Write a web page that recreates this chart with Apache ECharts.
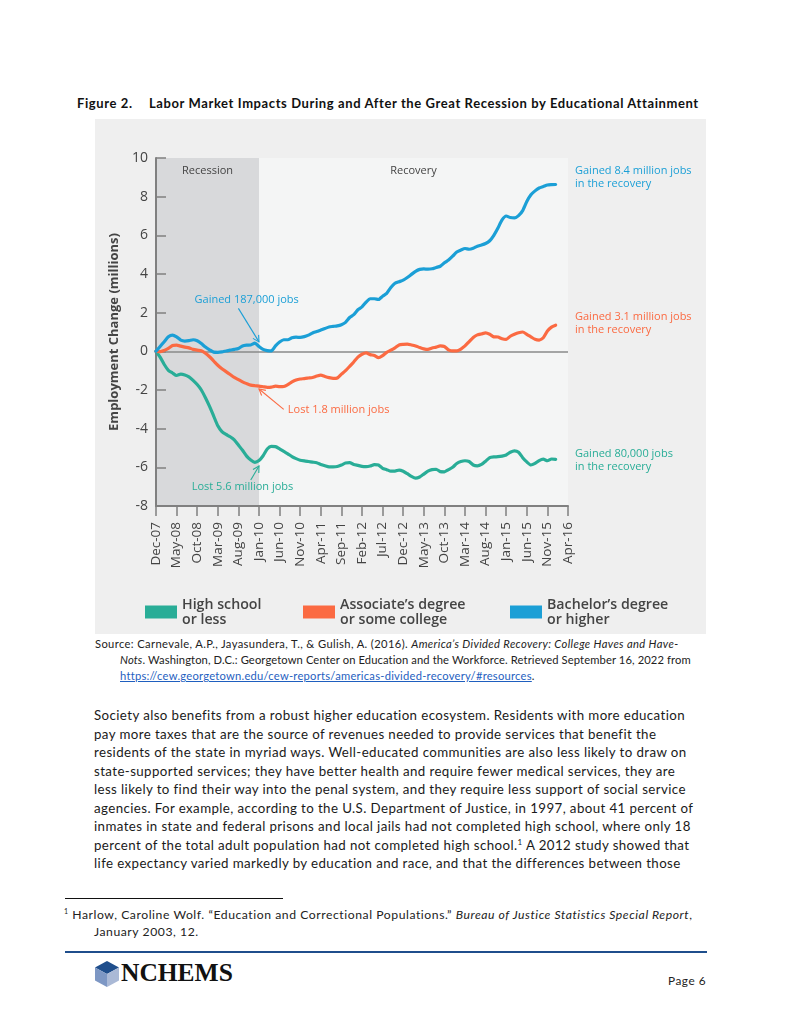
<!DOCTYPE html>
<html>
<head>
<meta charset="utf-8">
<script src="https://cdn.jsdelivr.net/npm/echarts@6.0.0/dist/echarts.min.js"></script>
<style>
  html, body { margin:0; padding:0; background:#fff; }
  body { width:800px; height:1035px; position:relative; overflow:hidden; font-family:"Lato", "Open Sans", sans-serif; color:#1a1a1a; }
  .ln { position:absolute; white-space:nowrap; }
  .title { font-weight:700; font-size:13px; letter-spacing:0.6px; line-height:16px; top:95px; color:#111; }
  .src { font-size:11.2px; letter-spacing:0.37px; line-height:16px; color:#222; }
  .body { font-size:13.3px; letter-spacing:0.4px; line-height:18px; left:94px; color:#1a1a1a; }
  .fn { font-size:12.2px; letter-spacing:0.55px; line-height:16px; color:#222; }
  .sup { position:relative; top:-5px; font-size:8px; }
  a { color:#1f5fbf; text-decoration:underline; }
  #chart { position:absolute; left:95px; top:119px; width:611px; height:515px; }
</style>
</head>
<body>
<div class="ln title" style="left:77px;">Figure 2.</div>
<div class="ln title" style="left:149px;">Labor Market Impacts During and After the Great Recession by Educational Attainment</div>

<div id="chart"></div>

<div class="ln src" style="left:95px; top:636px;">Source: Carnevale, A.P., Jayasundera, T., &amp; Gulish, A. (2016). <i>America’s Divided Recovery: College Haves and Have-</i></div>
<div class="ln src" style="left:120px; top:652px; letter-spacing:0.11px;"><i>Nots</i>. Washington, D.C.: Georgetown Center on Education and the Workforce. Retrieved September 16, 2022 from</div>
<div class="ln src" style="left:120px; top:668px; letter-spacing:0.24px;"><a>https://cew.georgetown.edu/cew-reports/americas-divided-recovery/#resources</a>.</div>

<div class="ln body" style="top:706px;">Society also benefits from a robust higher education ecosystem. Residents with more education</div>
<div class="ln body" style="top:724.5px;">pay more taxes that are the source of revenues needed to provide services that benefit the</div>
<div class="ln body" style="top:743px;">residents of the state in myriad ways. Well-educated communities are also less likely to draw on</div>
<div class="ln body" style="top:761.5px;">state-supported services; they have better health and require fewer medical services, they are</div>
<div class="ln body" style="top:780px;">less likely to find their way into the penal system, and they require less support of social service</div>
<div class="ln body" style="top:798.5px;">agencies. For example, according to the U.S. Department of Justice, in 1997, about 41 percent of</div>
<div class="ln body" style="top:817px;">inmates in state and federal prisons and local jails had not completed high school, where only 18</div>
<div class="ln body" style="top:835.5px;">percent of the total adult population had not completed high school.<span class="sup">1</span> A 2012 study showed that</div>
<div class="ln body" style="top:854px;">life expectancy varied markedly by education and race, and that the differences between those</div>

<div style="position:absolute; left:65px; top:898px; width:218px; height:1px; background:#111;"></div>
<div class="ln fn" style="left:64px; top:907px;"><span class="sup" style="font-size:7px;">1</span> Harlow, Caroline Wolf. “Education and Correctional Populations.” <i>Bureau of Justice Statistics Special Report</i>,</div>
<div class="ln fn" style="left:94px; top:924px;">January 2003, 12.</div>

<div style="position:absolute; left:65px; top:951px; width:642px; height:1.5px; background:#1f4e8c;"></div>
<svg style="position:absolute; left:93px; top:960px;" width="28" height="28" viewBox="0 0 28 28">
  <polygon points="14,1 26,7.5 14,14 2,7.5" fill="#1f4e8c"/>
  <polygon points="2,7.5 14,14 14,27 2,20.5" fill="#7d97c4"/>
  <polygon points="26,7.5 14,14 14,27 26,20.5" fill="#aab9d6"/>
</svg>
<div class="ln" style="left:121px; top:958px; font-family:'Liberation Serif','DejaVu Serif',serif; font-weight:700; font-size:26px; line-height:30px; color:#111; transform:scaleX(0.98); transform-origin:left center;">NCHEMS</div>
<div class="ln" style="right:94px; top:973px; font-size:11.8px; letter-spacing:0.5px; line-height:16px; color:#222;">Page 6</div>

<script>
// ---------------- data ----------------
const monthNames = ['Jan','Feb','Mar','Apr','May','Jun','Jul','Aug','Sep','Oct','Nov','Dec'];
const tickLabels = ['Dec-07','May-08','Oct-08','Mar-09','Aug-09','Jan-10','Jun-10','Nov-10','Apr-11','Sep-11',
  'Feb-12','Jul-12','Dec-12','May-13','Oct-13','Mar-14','Aug-14','Jan-15','Jun-15','Nov-15','Apr-16'];
// monthly categories Dec-07 .. Apr-16
const categories = [];
for (let i = 0; i < 101; i++) {
  const t = 11 + i;
  categories.push(monthNames[t % 12] + '-' + String((2007 + Math.floor(t / 12)) % 100).padStart(2, '0'));
}
const seriesNames = ['High school\nor less', 'Associate’s degree\nor some college', 'Bachelor’s degree\nor higher'];
// Employment change (millions), monthly Dec-07 .. Jan-16
const highSchool = [0,-0.3,-0.68,-0.98,-1.12,-1.25,-1.18,-1.22,-1.32,-1.5,
  -1.72,-2.0,-2.4,-2.85,-3.35,-3.85,-4.15,-4.3,-4.42,-4.58,
  -4.85,-5.12,-5.42,-5.62,-5.74,-5.65,-5.4,-5.05,-4.92,-4.93,
  -5.05,-5.18,-5.3,-5.45,-5.55,-5.63,-5.67,-5.7,-5.73,-5.76,
  -5.85,-5.92,-5.98,-5.98,-5.96,-5.88,-5.78,-5.76,-5.85,-5.9,
  -5.95,-5.96,-5.93,-5.86,-5.88,-6.05,-6.12,-6.2,-6.2,-6.14,
  -6.2,-6.33,-6.47,-6.56,-6.5,-6.35,-6.2,-6.12,-6.1,-6.22,
  -6.23,-6.12,-6.0,-5.8,-5.7,-5.66,-5.7,-5.88,-5.92,-5.85,
  -5.68,-5.5,-5.46,-5.45,-5.42,-5.36,-5.22,-5.15,-5.22,-5.5,
  -5.72,-5.88,-5.8,-5.65,-5.58,-5.66,-5.57,-5.59];
const associate = [0,-0.02,0.05,0.15,0.3,0.32,0.27,0.22,0.18,0.1,
  0.06,0.03,-0.1,-0.28,-0.5,-0.72,-0.9,-1.05,-1.2,-1.35,
  -1.46,-1.58,-1.67,-1.75,-1.78,-1.8,-1.83,-1.86,-1.85,-1.8,
  -1.83,-1.82,-1.72,-1.58,-1.48,-1.43,-1.41,-1.38,-1.35,-1.28,
  -1.23,-1.3,-1.36,-1.4,-1.38,-1.18,-1.0,-0.78,-0.55,-0.3,
  -0.15,-0.08,-0.17,-0.22,-0.33,-0.22,-0.05,0.06,0.18,0.33,
  0.36,0.37,0.33,0.28,0.2,0.13,0.1,0.17,0.22,0.28,
  0.25,0.08,0.02,0.02,0.12,0.28,0.5,0.72,0.85,0.9,
  0.95,0.88,0.75,0.74,0.65,0.62,0.78,0.88,0.96,1.0,
  0.88,0.75,0.62,0.58,0.7,1.05,1.25,1.35];
const bachelor = [0,0.25,0.5,0.75,0.84,0.75,0.58,0.53,0.55,0.6,
  0.55,0.4,0.22,0.08,-0.04,-0.05,-0.03,0.02,0.06,0.1,
  0.15,0.28,0.32,0.33,0.42,0.25,0.1,0.04,0.02,0.28,
  0.48,0.6,0.6,0.7,0.73,0.72,0.76,0.84,0.95,1.02,
  1.1,1.18,1.26,1.29,1.32,1.38,1.5,1.75,1.9,2.15,
  2.3,2.55,2.72,2.72,2.68,2.85,3.0,3.3,3.52,3.6,
  3.68,3.82,3.98,4.14,4.24,4.26,4.25,4.27,4.34,4.4,
  4.58,4.72,4.92,5.14,5.24,5.32,5.28,5.33,5.44,5.5,
  5.58,5.72,6.0,6.38,6.8,7.0,6.92,6.9,7.02,7.28,
  7.75,8.1,8.3,8.45,8.52,8.6,8.62,8.63];
const yTicks = [-8, 10, 2]; // min, max, interval

// ---------------- style ----------------
const colors = ['#29ad97', '#fb6a42', '#1b9fd6'];
const FONT = '"Open Sans", "Noto Sans", sans-serif';
const axisGrey = '#808080';

const chart = echarts.init(document.getElementById('chart'), null, { renderer: 'canvas' });

function lineSeries(i, data, extra) {
  return Object.assign({
    name: seriesNames[i], type: 'line', data: data, showSymbol: false, symbol: 'none',
    smooth: 0.2, lineStyle: { color: colors[i], width: 3.2, join: 'round', cap: 'round' },
    itemStyle: { color: colors[i] }, z: 5 + i, silent: true
  }, extra || {});
}

const legendBase = {
  icon: 'rect', itemWidth: 32, itemHeight: 13, orient: 'horizontal', padding: 0,
  textStyle: { fontFamily: FONT, fontSize: 14.2, fontWeight: 600, color: '#444', lineHeight: 15 },
  selectedMode: false
};

chart.setOption({
  backgroundColor: '#efefef',
  animation: false,
  textStyle: { fontFamily: FONT },
  grid: { left: 61, top: 39, width: 412, height: 348, containLabel: false },
  xAxis: {
    type: 'category', data: categories, boundaryGap: false,
    axisLine: { onZero: false, lineStyle: { color: axisGrey, width: 2 } },
    axisTick: { interval: 4, length: 10, lineStyle: { color: axisGrey, width: 1.5 } },
    axisLabel: { interval: 4, rotate: 90, color: '#444', fontSize: 13.5, margin: 16, fontFamily: FONT },
    splitLine: { show: false }
  },
  yAxis: {
    type: 'value', min: yTicks[0], max: yTicks[1], interval: yTicks[2],
    axisLine: { show: true, lineStyle: { color: axisGrey, width: 2 } },
    axisTick: { show: true, inside: true, length: 10, lineStyle: { color: axisGrey, width: 1.5 } },
    axisLabel: { color: '#444', fontSize: 14, margin: 8, fontFamily: FONT },
    splitLine: { show: false },
    name: 'Employment Change (millions)', nameLocation: 'middle', nameGap: 32,
    nameTextStyle: { fontFamily: FONT, fontWeight: 'bold', fontSize: 13, color: '#444' }
  },
  legend: [
    Object.assign({ data: [seriesNames[0]], left: 50, top: 478 }, legendBase),
    Object.assign({ data: [seriesNames[1]], left: 208, top: 478 }, legendBase),
    Object.assign({ data: [seriesNames[2]], left: 415, top: 478 }, legendBase)
  ],
  series: [
    lineSeries(0, highSchool, {
      markArea: {
        silent: true,
        label: { show: true, position: 'insideTop', distance: 7, color: '#444', fontSize: 11, fontFamily: FONT },
        data: [
          [{ name: 'Recession', xAxis: 'Dec-07', itemStyle: { color: '#d8d9db' } }, { xAxis: 'Jan-10' }],
          [{ name: 'Recovery', xAxis: 'Jan-10', itemStyle: { color: '#f4f5f5' } }, { xAxis: 'Apr-16' }]
        ],
        z: 0
      },
      markLine: {
        silent: true, symbol: 'none', label: { show: false },
        lineStyle: { color: '#8a8a8a', width: 1.5, type: 'solid' },
        data: [{ yAxis: 0 }]
      }
    }),
    lineSeries(1, associate),
    lineSeries(2, bachelor)
  ]
});

// ---------------- annotations (anchored in data coordinates) ----------------
function px(m, v) { return chart.convertToPixel({ xAxisIndex: 0, yAxisIndex: 0 }, [m, v]); }
function arrow(from, to, color) {
  const [x1, y1] = from, [x2, y2] = to;
  const ang = Math.atan2(y2 - y1, x2 - x1), L = 7, a = 0.5;
  return [
    { type: 'line', shape: { x1, y1, x2, y2 }, style: { stroke: color, lineWidth: 1.1 }, z: 20 },
    { type: 'polyline', shape: { points: [[x2 - L * Math.cos(ang - a), y2 - L * Math.sin(ang - a)], [x2, y2], [x2 - L * Math.cos(ang + a), y2 - L * Math.sin(ang + a)]] },
      style: { stroke: color, lineWidth: 1.1, fill: null }, z: 20 }
  ];
}
function label(p, text, color, align) {
  return { type: 'text', x: p[0], y: p[1], z: 20,
    style: { text, fill: color, fontSize: 11, fontWeight: 500, fontFamily: FONT, align: align || 'left', verticalAlign: 'middle', lineHeight: 13 } };
}
const g = [];
g.push(label(px(21.5, 2.65), 'Gained 187,000 jobs', colors[2], 'center'));
g.push(...arrow(px(20.2, 2.22), px(25, 0.49), colors[2]));
g.push(label(px(31.5, -3.04), 'Lost 1.8 million jobs', colors[1], 'left'));
g.push(...arrow(px(30.6, -3.0), px(25, -1.95), colors[1]));
g.push(label(px(20.5, -7.03), 'Lost 5.6 million jobs', colors[0], 'center'));
g.push(...arrow(px(22.9, -6.66), px(25.1, -5.93), colors[0]));
const endX = px(100, 0)[0] + 7;
g.push(label([endX, px(100, 8.98)[1]], 'Gained 8.4 million jobs\nin the recovery', colors[2]));
g.push(label([endX, px(100, 1.46)[1]], 'Gained 3.1 million jobs\nin the recovery', colors[1]));
g.push(label([endX, px(100, -5.65)[1]], 'Gained 80,000 jobs\nin the recovery', colors[0]));
chart.setOption({ graphic: g });
</script>
</body>
</html>
